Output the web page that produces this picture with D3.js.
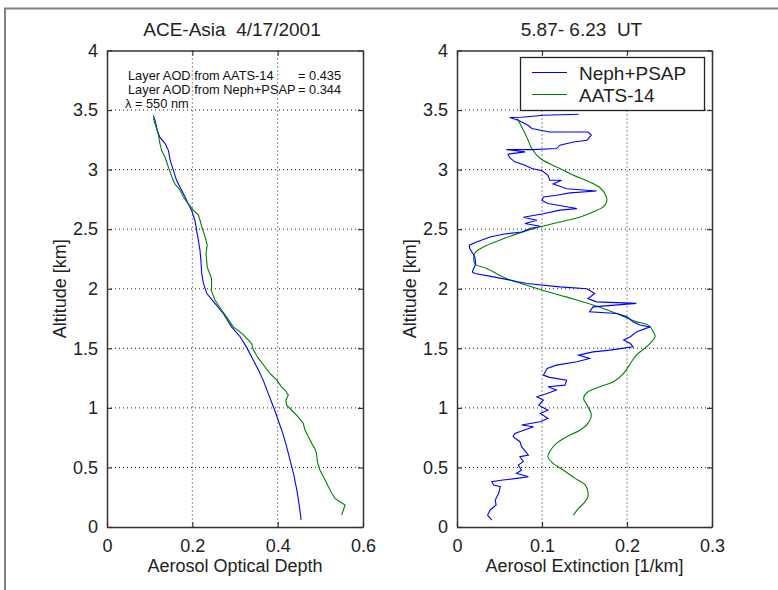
<!DOCTYPE html>
<html><head><meta charset="utf-8">
<script src="https://cdn.jsdelivr.net/npm/d3@7"></script>
<style>
body{margin:0;background:#fff;}
svg{display:block;font-family:"Liberation Sans",Arial,sans-serif;}
text{white-space:pre;}
</style></head><body>
<svg id="c" width="778" height="590"></svg>
<script>
// ---------- data ----------
const altTicks = [0, 0.5, 1, 1.5, 2, 2.5, 3, 3.5, 4];
const altTickLabels = ["0", "0.5", "1", "1.5", "2", "2.5", "3", "3.5", "4"];
const aodTicks = [0, 0.2, 0.4, 0.6];
const aodTickLabels = ["0", "0.2", "0.4", "0.6"];
const extTicks = [0, 0.1, 0.2, 0.3];
const extTickLabels = ["0", "0.1", "0.2", "0.3"];
const seriesNames = ["Neph+PSAP", "AATS-14"];
const leftTitle = "ACE-Asia  4/17/2001";
const rightTitle = "5.87- 6.23  UT";
const annotLabels = ["Layer AOD from AATS-14", "Layer AOD from Neph+PSAP", "\u03bb = 550 nm"];
const annotValues = ["= 0.435", "= 0.344", ""];

// Left panel: layer AOD profiles
const nephAodAlt = [0.06,0.17,0.31,0.45,0.562,0.674,0.786,0.898,1.01,1.12,1.233,1.317,1.40,1.51,1.597,1.68,1.79,1.877,1.96,2.045,2.13,2.24,2.32,2.41,2.49,2.575,2.66,2.715,2.77,2.855,2.91,3.0,3.08,3.16,3.22,3.27,3.33,3.415,3.456];
const nephAod = [0.455,0.451,0.445,0.437,0.429,0.421,0.412,0.401,0.39,0.378,0.366,0.355,0.343,0.327,0.312,0.292,0.273,0.253,0.234,0.226,0.222,0.22,0.218,0.214,0.21,0.206,0.198,0.19,0.183,0.171,0.163,0.155,0.148,0.144,0.136,0.124,0.118,0.1125,0.1086];
const aatsAodAlt = [0.1,0.143,0.185,0.212,0.24,0.283,0.338,0.394,0.478,0.548,0.618,0.66,0.702,0.758,0.814,0.87,0.925,0.98,1.023,1.065,1.107,1.15,1.177,1.233,1.29,1.345,1.415,1.485,1.54,1.57,1.625,1.68,1.764,1.82,1.905,1.99,2.016,2.087,2.18,2.296,2.366,2.435,2.52,2.575,2.62,2.66,2.715,2.77,2.83,2.88,2.94,3.02,3.106,3.16,3.22,3.30,3.387,3.43];
const aatsAod = [0.55,0.554,0.558,0.546,0.534,0.527,0.519,0.511,0.499,0.493,0.491,0.487,0.48,0.472,0.464,0.46,0.448,0.433,0.421,0.419,0.425,0.417,0.409,0.398,0.382,0.37,0.355,0.343,0.339,0.331,0.316,0.296,0.28,0.269,0.253,0.244,0.245,0.245,0.235,0.232,0.235,0.23,0.222,0.218,0.214,0.202,0.19,0.179,0.171,0.159,0.152,0.144,0.136,0.128,0.124,0.12,0.1125,0.1086];

// Right panel: extinction profiles
const nephExtAlt = [3.465,3.456,3.44,3.437,3.414,3.37,3.345,3.316,3.316,3.29,3.247,3.232,3.205,3.177,3.168,3.168,3.149,3.13,3.10,3.065,3.037,3.01,2.99,2.953,2.911,2.911,2.88,2.86,2.84,2.82,2.805,2.785,2.77,2.74,2.715,2.673,2.66,2.63,2.60,2.575,2.548,2.525,2.506,2.477,2.458,2.435,2.393,2.366,2.337,2.268,2.21,2.14,2.128,2.10,2.044,2.016,2.0,1.96,1.918,1.89,1.877,1.848,1.806,1.792,1.764,1.722,1.695,1.68,1.638,1.597,1.569,1.54,1.513,1.485,1.47,1.443,1.415,1.387,1.359,1.331,1.275,1.256,1.233,1.191,1.177,1.15,1.12,1.093,1.065,1.023,0.98,0.954,0.911,0.883,0.856,0.841,0.786,0.758,0.716,0.674,0.604,0.59,0.548,0.52,0.478,0.45,0.422,0.408,0.394,0.38,0.352,0.338,0.283,0.226,0.185,0.143,0.10,0.058];
const nephExt = [0.143,0.1016,0.076,0.062,0.072,0.084,0.088,0.109,0.154,0.158,0.153,0.137,0.121,0.117,0.09,0.058,0.08,0.06,0.062,0.068,0.08,0.088,0.1,0.107,0.109,0.123,0.113,0.121,0.129,0.164,0.133,0.117,0.1016,0.1,0.107,0.141,0.121,0.1016,0.078,0.094,0.08,0.098,0.086,0.076,0.054,0.039,0.023,0.0145,0.015,0.021,0.022,0.018,0.021,0.043,0.082,0.121,0.153,0.162,0.154,0.164,0.211,0.16,0.156,0.188,0.2,0.207,0.215,0.227,0.211,0.204,0.196,0.204,0.207,0.18,0.16,0.143,0.156,0.141,0.117,0.106,0.1016,0.109,0.129,0.127,0.107,0.117,0.106,0.094,0.1016,0.096,0.107,0.098,0.107,0.098,0.076,0.09,0.068,0.066,0.074,0.076,0.084,0.074,0.078,0.072,0.076,0.07,0.084,0.07,0.054,0.041,0.043,0.051,0.049,0.045,0.046,0.039,0.036,0.041];
const aatsExtAlt = [3.43,3.36,3.275,3.177,3.093,3.023,2.953,2.897,2.85,2.785,2.73,2.687,2.645,2.603,2.56,2.52,2.469,2.41,2.35,2.30,2.21,2.17,2.087,2.03,1.994,1.946,1.91,1.835,1.779,1.722,1.695,1.638,1.597,1.513,1.443,1.373,1.29,1.219,1.177,1.135,1.08,1.023,0.94,0.87,0.814,0.758,0.702,0.632,0.59,0.534,0.478,0.408,0.352,0.296,0.254,0.198,0.157,0.10];
const aatsExt = [0.071,0.076,0.082,0.088,0.098,0.117,0.137,0.156,0.168,0.175,0.176,0.172,0.160,0.145,0.121,0.098,0.074,0.051,0.031,0.021,0.021,0.035,0.058,0.082,0.098,0.121,0.139,0.172,0.192,0.211,0.225,0.231,0.233,0.223,0.211,0.204,0.196,0.184,0.168,0.154,0.149,0.153,0.158,0.154,0.145,0.129,0.117,0.109,0.107,0.113,0.125,0.139,0.151,0.154,0.154,0.149,0.143,0.137];

// ---------- drawing ----------
const svg = d3.select("#c");
const BLUE = "#0000ff", GREEN = "#008000", AX = "#333";
const FONT = 18;

// figure frame
svg.append("path").attr("d", "M5,590 V8.5 H778").attr("fill","none").attr("stroke","#808080").attr("stroke-width",2);

const yScale = d3.scaleLinear().domain([0, 4]).range([527, 50.5]);

function panel(x0, x1, xTicks, xLabels, xDomain, title, xTitle) {
  const x = d3.scaleLinear().domain(xDomain).range([x0, x1]);
  const g = svg.append("g");
  // grid
  const grid = g.append("g").attr("stroke", "#222").attr("stroke-width", 1).attr("stroke-dasharray", "1,3");
  xTicks.slice(1, -1).forEach(t => grid.append("line").attr("x1", x(t)).attr("x2", x(t)).attr("y1", yScale(4)).attr("y2", yScale(0)));
  altTicks.slice(1, -1).forEach(t => grid.append("line").attr("x1", x0).attr("x2", x1).attr("y1", yScale(t)).attr("y2", yScale(t)));
  // axes
  const axB = d3.axisBottom(x).tickValues(xTicks).tickFormat((d,i)=>xLabels[i]).tickSizeInner(-5).tickSizeOuter(0).tickPadding(12);
  const axT = d3.axisTop(x).tickValues(xTicks).tickFormat("").tickSizeInner(-5).tickSizeOuter(0);
  const axL = d3.axisLeft(yScale).tickValues(altTicks).tickFormat((d,i)=>altTickLabels[i]).tickSizeInner(-5).tickSizeOuter(0).tickPadding(9);
  const axR = d3.axisRight(yScale).tickValues(altTicks).tickFormat("").tickSizeInner(-5).tickSizeOuter(0);
  [[axB,`translate(0,${yScale(0)})`],[axT,`translate(0,${yScale(4)})`],[axL,`translate(${x0},0)`],[axR,`translate(${x1},0)`]].forEach(([a,t])=>{
    const ag = g.append("g").attr("transform", t).call(a);
    ag.select(".domain").attr("stroke", AX).attr("stroke-width", 1.5);
    ag.selectAll(".tick line").attr("stroke", AX).attr("stroke-width", 1.2);
    ag.selectAll(".tick text").attr("fill", "#222").style("font-size", FONT+"px").style("font-family", "inherit");
  });
  // titles
  g.append("text").attr("x", (x0+x1)/2 - 3).attr("y", 36).attr("text-anchor","middle").attr("fill","#222").style("font-size", (FONT+1)+"px").text(title);
  g.append("text").attr("x", (x0+x1)/2).attr("y", 572).attr("text-anchor","middle").attr("fill","#222").style("font-size", FONT+"px").text(xTitle);
  g.append("text").attr("transform", `translate(${x0-41},${(yScale(0)+yScale(4))/2}) rotate(-90)`).attr("text-anchor","middle").attr("fill","#222").style("font-size", FONT+"px").text("Altitude [km]");
  return {x, g};
}

function drawLine(g, x, xs, ys, color, curve) {
  const pts = xs.map((v,i)=>[v, ys[i]]);
  g.append("path").datum(pts).attr("fill","none").attr("stroke",color).attr("stroke-width",1.1)
    .attr("d", d3.line().x(d=>x(d[0])).y(d=>yScale(d[1])).curve(curve || d3.curveLinear));
}

const L = panel(107, 363, aodTicks, aodTickLabels, [0, 0.6], leftTitle, "Aerosol Optical Depth");
drawLine(L.g, L.x, nephAod, nephAodAlt, BLUE);
drawLine(L.g, L.x, aatsAod, aatsAodAlt, GREEN);
// annotation
annotLabels.forEach((t,i)=>{
  L.g.append("text").attr("x", i<2 ? 128 : 125).attr("y", 80 + i*14).attr("fill","#111").style("font-size","12.8px").text(t);
  if (annotValues[i]) L.g.append("text").attr("x", 298).attr("y", 80 + i*14).attr("fill","#111").style("font-size","12.8px").text(annotValues[i]);
});

const R = panel(457, 712, extTicks, extTickLabels, [0, 0.3], rightTitle, "Aerosol Extinction [1/km]");
drawLine(R.g, R.x, aatsExt, aatsExtAlt, GREEN, d3.curveCatmullRom);
drawLine(R.g, R.x, nephExt, nephExtAlt, BLUE);

// legend
const lg = R.g.append("g");
lg.append("rect").attr("x", 520.5).attr("y", 57.5).attr("width", 184).attr("height", 53).attr("fill","#fff").attr("stroke","#222").attr("stroke-width",1.3);
[BLUE, GREEN].forEach((c,i)=>{
  const yy = 72.5 + i*22;
  lg.append("line").attr("x1", 532).attr("x2", 567).attr("y1", yy).attr("y2", yy).attr("stroke", c).attr("stroke-width",1.2);
  lg.append("text").attr("x", 579).attr("y", yy+7).attr("fill","#222").style("font-size","19px").text(seriesNames[i]);
});
</script>
</body></html>
